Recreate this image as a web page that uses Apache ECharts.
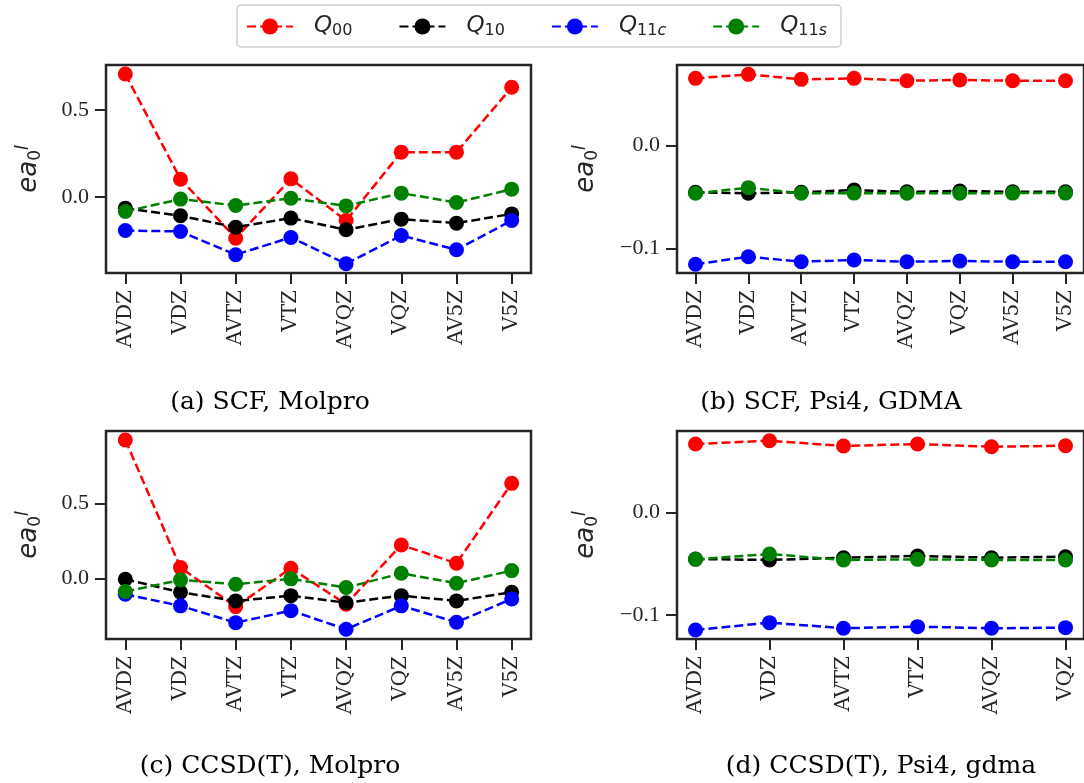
<!DOCTYPE html>
<html>
<head>
<meta charset="utf-8">
<script src="https://cdn.jsdelivr.net/npm/echarts@6/dist/echarts.min.js"></script>
<style>
    html, body { margin: 0; padding: 0; background: #fff; }
    #main { width: 1084px; height: 783px; }
</style>
</head>
<body>
<div id="main"></div>
<script>
// basis sets
const cats8 = ['AVDZ', 'VDZ', 'AVTZ', 'VTZ', 'AVQZ', 'VQZ', 'AV5Z', 'V5Z'];
const cats6 = ['AVDZ', 'VDZ', 'AVTZ', 'VTZ', 'AVQZ', 'VQZ'];

// (a) SCF, Molpro
const aQ00 = [0.706, 0.103, -0.235, 0.105, -0.134, 0.258, 0.258, 0.630];
const aQ10 = [-0.063, -0.107, -0.172, -0.120, -0.187, -0.126, -0.149, -0.096];
const aQ11c = [-0.191, -0.197, -0.330, -0.231, -0.382, -0.220, -0.302, -0.134];
const aQ11s = [-0.082, -0.011, -0.048, -0.006, -0.050, 0.023, -0.031, 0.046];

// (b) SCF, Psi4, GDMA
const bQ00 = [0.0657, 0.0696, 0.0647, 0.0657, 0.0634, 0.0641, 0.0634, 0.0634];
const bQ10 = [-0.0454, -0.0464, -0.0454, -0.0432, -0.0450, -0.0441, -0.0450, -0.0450];
const bQ11c = [-0.1156, -0.1082, -0.1131, -0.1114, -0.1131, -0.1124, -0.1131, -0.1131];
const bQ11s = [-0.0464, -0.0409, -0.0464, -0.0462, -0.0464, -0.0464, -0.0462, -0.0462];

// (c) CCSD(T), Molpro
const cQ00 = [0.922, 0.071, -0.189, 0.067, -0.173, 0.222, 0.100, 0.633];
const cQ10 = [-0.007, -0.093, -0.151, -0.116, -0.163, -0.116, -0.151, -0.093];
const cQ11c = [-0.107, -0.184, -0.296, -0.216, -0.340, -0.184, -0.293, -0.138];
const cQ11s = [-0.089, -0.011, -0.040, -0.004, -0.062, 0.033, -0.033, 0.051];

// (d) CCSD(T), Psi4, gdma
const dQ00 = [0.0672, 0.0704, 0.0652, 0.0672, 0.0645, 0.0655];
const dQ10 = [-0.0453, -0.0462, -0.0440, -0.0423, -0.0440, -0.0430];
const dQ11c = [-0.1147, -0.1075, -0.1130, -0.1114, -0.1130, -0.1124];
const dQ11s = [-0.0456, -0.0404, -0.0462, -0.0456, -0.0462, -0.0462];

const yTicksMolpro = [0, 0.5];
const yTicksPsi4 = [-0.1, 0];

const names = ['Q00', 'Q10', 'Q11c', 'Q11s'];
const colors = ['#ff0000', '#000000', '#0000ff', '#008000'];
const panelData = [
    [aQ00, aQ10, aQ11c, aQ11s],
    [bQ00, bQ10, bQ11c, bQ11s],
    [cQ00, cQ10, cQ11c, cQ11s],
    [dQ00, dQ10, dQ11c, dQ11s]
];
const panelCats = [cats8, cats8, cats8, cats6];
const panelYTicks = [yTicksMolpro, yTicksPsi4, yTicksMolpro, yTicksPsi4];
const panelYRange = [[-0.435, 0.758], [-0.1241, 0.0787], [-0.405, 0.982], [-0.1235, 0.0799]];

const spine = '#262626';
const serif = 'Liberation Serif';

const myChart = echarts.init(document.getElementById('main'));

const grids = [
    { left: 106, top: 65, width: 425, height: 208 },
    { left: 677, top: 65, width: 413, height: 208 },
    { left: 106, top: 431, width: 425, height: 208 },
    { left: 677, top: 431, width: 413, height: 208 }
].map(g => Object.assign(g, {
    show: true,
    borderColor: spine,
    borderWidth: 2.5,
    backgroundColor: 'transparent'
}));

const xAxes = panelCats.map((cats, i) => ({
    type: 'value',
    gridIndex: i,
    // matplotlib-like 5% margins
    min: -(cats.length - 1) * 0.05,
    max: (cats.length - 1) * 1.05,
    axisLine: { show: false, onZero: false },
    splitLine: { show: false },
    axisTick: {
        length: 11,
        customValues: cats.map((c, k) => k),
        lineStyle: { color: spine, width: 2 }
    },
    axisLabel: {
        rotate: 90,
        margin: 17,
        customValues: cats.map((c, k) => k),
        formatter: v => cats[Math.round(v)] || '',
        fontFamily: 'DejaVu Serif',
        fontSize: 20,
        color: spine
    }
}));

const yAxes = panelYTicks.map((ticks, i) => ({
    type: 'value',
    gridIndex: i,
    min: panelYRange[i][0],
    max: panelYRange[i][1],
    name: '{a|ea}{sub|0}{sup|l}',
    nameLocation: 'middle',
    nameRotate: 90,
    nameGap: i % 2 === 0 ? 62 : 76,
    nameTextStyle: {
        rich: {
            a: { fontFamily: 'DejaVu Sans', fontStyle: 'italic', fontSize: 26, color: spine },
            sub: { fontFamily: 'DejaVu Sans', fontSize: 17, color: spine, verticalAlign: 'bottom', padding: [10, 0, 0, 0] },
            sup: { fontFamily: 'DejaVu Sans', fontStyle: 'italic', fontSize: 17, color: spine, verticalAlign: 'top', padding: [0, 0, 12, 0] }
        }
    },
    axisLine: { show: false, onZero: false },
    splitLine: { show: false },
    axisTick: {
        length: 11,
        customValues: ticks,
        lineStyle: { color: spine, width: 2 }
    },
    axisLabel: {
        margin: 17,
        customValues: ticks,
        formatter: v => (v < 0 ? '\u2212' : '') + Math.abs(v).toFixed(1),
        fontFamily: serif,
        fontSize: 22,
        color: spine
    }
}));

const series = [];
panelData.forEach((sets, p) => {
    sets.forEach((vals, s) => {
        series.push({
            name: names[s],
            type: 'line',
            xAxisIndex: p,
            yAxisIndex: p,
            data: vals.map((v, k) => [k, v]),
            symbol: 'circle',
            symbolSize: 15,
            color: colors[s],
            lineStyle: { width: 2.5, type: [9, 4], color: colors[s] },
            itemStyle: { color: colors[s] },
            z: 2 + s
        });
    });
});

const captions = [
    { x: 270, y: 402, text: '(a) SCF, Molpro' },
    { x: 831, y: 402, text: '(b) SCF, Psi4, GDMA' },
    { x: 270, y: 766, text: '(c) CCSD(T), Molpro' },
    { x: 881, y: 766, text: '(d) CCSD(T), Psi4, gdma' }
];

const option = {
    animation: false,
    grid: grids,
    xAxis: xAxes,
    yAxis: yAxes,
    legend: {
        data: names,
        left: 237,
        top: 5,
        padding: [10, 14, 8, 9],
        itemWidth: 46,
        itemHeight: 20,
        itemGap: 46,
        borderColor: '#d0d0d0',
        borderWidth: 1.5,
        borderRadius: 4,
        formatter: n => '{q|Q}{s|' + n.slice(1, 3) + '}' + (n.length > 3 ? '{si|' + n.slice(3) + '}' : ''),
        textStyle: {
            padding: [0, 0, 0, 16],
            rich: {
                q: { fontFamily: 'DejaVu Sans', fontStyle: 'italic', fontSize: 23, color: spine },
                s: { fontFamily: 'DejaVu Sans', fontSize: 16, color: spine, verticalAlign: 'bottom', padding: [9, 0, 0, 0] },
                si: { fontFamily: 'DejaVu Sans', fontStyle: 'italic', fontSize: 16, color: spine, verticalAlign: 'bottom', padding: [9, 0, 0, 0] }
            }
        }
    },
    graphic: captions.map(c => ({
        type: 'text',
        x: c.x,
        y: c.y,
        style: {
            text: c.text,
            textAlign: 'center',
            textVerticalAlign: 'middle',
            font: '25px "DejaVu Serif"',
            fill: '#000'
        }
    })),
    series: series
};

myChart.setOption(option);
window.addEventListener('resize', () => {
    myChart.resize();
})
</script>
</body>
</html>
